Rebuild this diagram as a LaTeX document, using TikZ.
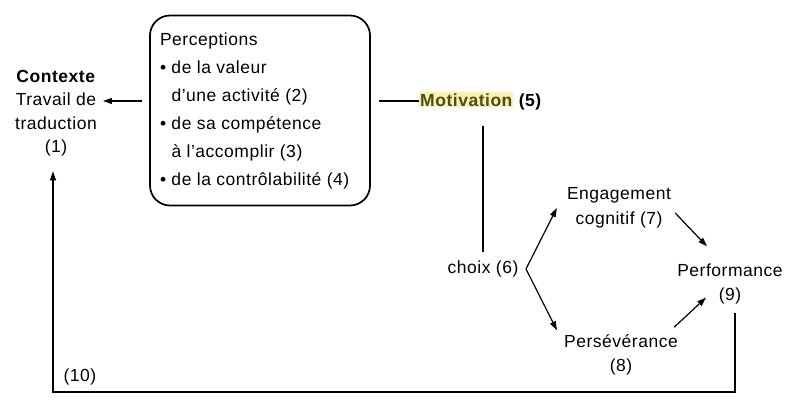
\documentclass[tikz,border=0pt]{standalone}
\usepackage{fontspec}
\setmainfont[LetterSpace=3]{Liberation Sans}
\usetikzlibrary{arrows.meta,calc}
\definecolor{hlbg}{HTML}{F7F2B4}
\definecolor{hltext}{HTML}{4E4C18}
\tikzset{
  txt/.style={inner sep=0pt, align=center, font=\fontsize{17.5}{24.5}\selectfont},
  arr/.style={draw, line width=1.2pt, -{Triangle[length=9pt,width=6pt]}},
  ln/.style={draw, line width=1.2pt},
  percbox/.style={draw, line width=1.7pt, rounded corners=20pt, minimum width=220pt, minimum height=190pt, inner sep=0pt, align=left, font=\fontsize{17.5}{28}\selectfont}
}
\begin{document}
\begin{tikzpicture}[x=1pt,y=-1pt]
\useasboundingbox (0,0) rectangle (787,419);
\node[txt,font=\fontsize{17.5}{23.5}\selectfont] (ctx) at (56,113) {\textbf{Contexte}\\Travail de\\traduction\\(1)};
\node[percbox] (box) at (260,110.5) {%
\begin{minipage}{200pt}\raggedright
Perceptions\\
\textbullet\ de la valeur\\
\phantom{\textbullet\ }d’une activité (2)\\
\textbullet\ de sa compétence\\
\phantom{\textbullet\ }à l’accomplir (3)\\
\textbullet\ de la contrôlabilité (4)
\end{minipage}};
\node[txt, anchor=west] (mot) at (419,101) {\bfseries{\fboxsep=1pt\colorbox{hlbg}{\textcolor{hltext}{Motivation}}} (5)};
\node[txt] (choix) at (483,269) {choix (6)};
\node[txt] (eng) at (619,208) {Engagement\\cognitif (7)};
\node[txt] (perf) at (730,284) {Performance\\(9)};
\node[txt] (pers) at (621,355) {Persévérance\\(8)};
\node[txt] (lab10) at (80,377) {(10)};
\coordinate (fork) at (526,269);
\coordinate (loopy) at (53,392);
% connectors
\draw[arr] ([xshift=-7pt,yshift=9.5pt]box.west) -- ([xshift=6pt,yshift=9.5pt]box.west -| ctx.east);
\draw[ln] ([xshift=8pt,yshift=9.5pt]box.east) -- (mot.west);
\draw[ln] ([yshift=-16pt]mot.south -| choix.north) -- ([yshift=9pt]choix.north);
\draw[arr] (fork) -- ([xshift=-10pt]eng.west);
\draw[arr] (fork) -- ([xshift=-7pt,yshift=4pt]pers.north west);
\draw[arr] ([xshift=4pt,yshift=-5pt]eng.east) -- ([xshift=-23pt,yshift=17pt]perf.north);
\draw[arr] ([xshift=-4pt,yshift=7pt]pers.north east) -- ([xshift=-24pt,yshift=7pt]perf.south);
\draw[arr] ([xshift=5pt,yshift=-8pt]perf.south) |- (loopy) -- ([yshift=-15pt]loopy |- ctx.south);
\end{tikzpicture}
\end{document}
